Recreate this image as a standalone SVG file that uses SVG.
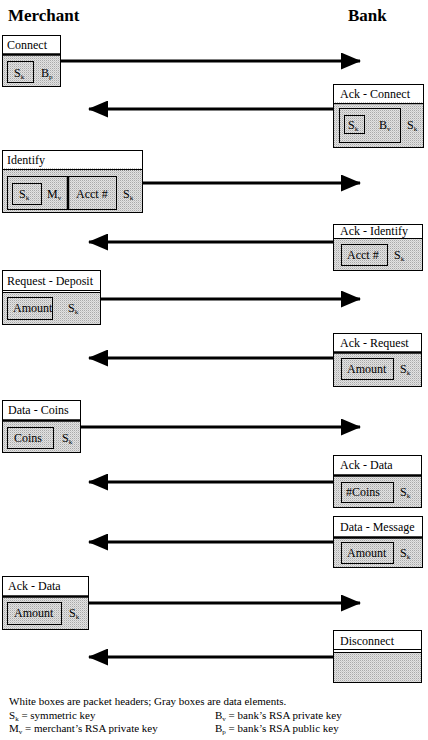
<svg xmlns="http://www.w3.org/2000/svg" width="428" height="740" viewBox="0 0 428 740">
<style>
text{font-family:"Liberation Serif","Times New Roman",Times,"DejaVu Serif",serif;font-size:12px;fill:#000}
.title{font-size:17px;font-weight:bold}
.leg{font-size:11px}
.sub{font-size:7px}
.hdr{fill:#fff;stroke:#000;stroke-width:1}
.body{fill:url(#dots);stroke:#000;stroke-width:1}
.inner{fill:url(#dots);stroke:#000;stroke-width:1}
.thick{stroke:#000;stroke-width:2.5}
.thin{stroke:#000;stroke-width:1}
.dot{stroke:#000;stroke-width:1.5;stroke-dasharray:1 1}
.conn{stroke:#000;stroke-width:3;fill:none}
</style>
<defs>
<pattern id="dots" width="2" height="2" patternUnits="userSpaceOnUse">
<rect width="2" height="2" fill="#e2e2e2"/>
<rect width="1" height="1" fill="#a9a9a9"/>
<rect x="1" y="1" width="1" height="1" fill="#cacaca"/>
</pattern>
<marker id="ah" viewBox="0 0 20 17" refX="19" refY="8.5" markerWidth="20" markerHeight="17" markerUnits="userSpaceOnUse" orient="auto">
<path d="M0,0 L20,8.5 L0,17 Z" fill="#000"/>
</marker>
</defs>
<rect width="428" height="740" fill="#fff"/>

<text class="title" x="8" y="21">Merchant</text>
<text class="title" x="348" y="21">Bank</text>

<g id="connectors">
<line class="conn" x1="61" y1="61" x2="360" y2="61" marker-end="url(#ah)"/>
<line class="conn" x1="333" y1="109" x2="89" y2="109" marker-end="url(#ah)"/>
<line class="conn" x1="143" y1="183" x2="360" y2="183" marker-end="url(#ah)"/>
<line class="conn" x1="333" y1="242" x2="89" y2="242" marker-end="url(#ah)"/>
<line class="conn" x1="101" y1="299" x2="360" y2="299" marker-end="url(#ah)"/>
<line class="conn" x1="333" y1="358" x2="89" y2="358" marker-end="url(#ah)"/>
<line class="conn" x1="81" y1="427" x2="360" y2="427" marker-end="url(#ah)"/>
<line class="conn" x1="333" y1="482" x2="89" y2="482" marker-end="url(#ah)"/>
<line class="conn" x1="333" y1="542" x2="89" y2="542" marker-end="url(#ah)"/>
<line class="conn" x1="89" y1="603" x2="360" y2="603" marker-end="url(#ah)"/>
<line class="conn" x1="333" y1="657" x2="89" y2="657" marker-end="url(#ah)"/>
</g>

<g id="connect">
<rect class="hdr" x="2.5" y="35.5" width="58" height="19"/>
<rect class="body" x="2.5" y="54.5" width="58" height="32"/>
<line class="thick" x1="2" y1="54.5" x2="61" y2="54.5"/>
<text x="7" y="49">Connect</text>
<rect class="inner" x="7.5" y="61.5" width="26" height="21"/>
<text x="14" y="77">S<tspan class="sub" dy="2">k</tspan></text>
<text x="41" y="77">B<tspan class="sub" dy="2">p</tspan></text>
</g>

<g id="ack-connect">
<rect class="hdr" x="333.5" y="84.5" width="90" height="19"/>
<rect class="body" x="333.5" y="103.5" width="90" height="44"/>
<line class="dot" x1="333" y1="103.5" x2="424" y2="103.5"/>
<text x="340" y="98">Ack - Connect</text>
<rect class="inner" x="339.5" y="108.5" width="61" height="34"/>
<rect class="inner" x="344.5" y="115.5" width="20" height="18"/>
<text x="348" y="129">S<tspan class="sub" dy="2">k</tspan></text>
<text x="379" y="129">B<tspan class="sub" dy="2">v</tspan></text>
<text x="407" y="129">S<tspan class="sub" dy="2">k</tspan></text>
</g>

<g id="identify">
<rect class="hdr" x="2.5" y="150.5" width="140" height="19"/>
<rect class="body" x="2.5" y="169.5" width="140" height="43"/>
<line class="dot" x1="2" y1="169.5" x2="143" y2="169.5"/>
<text x="7" y="164">Identify</text>
<rect class="inner" x="7.5" y="176.5" width="109" height="33"/>
<line class="thick" x1="68" y1="176" x2="68" y2="210"/>
<rect class="inner" x="12.5" y="183.5" width="29" height="21"/>
<text x="19" y="198">S<tspan class="sub" dy="2">k</tspan></text>
<text x="47" y="198">M<tspan class="sub" dy="2">v</tspan></text>
<text x="76" y="198">Acct #</text>
<text x="123" y="198">S<tspan class="sub" dy="2">k</tspan></text>
</g>

<g id="ack-identify">
<rect class="hdr" x="333.5" y="224.5" width="89" height="14"/>
<rect class="body" x="333.5" y="238.5" width="89" height="32"/>
<line class="thin" x1="333" y1="238.5" x2="423" y2="238.5"/>
<text x="340" y="235">Ack - Identify</text>
<rect class="inner" x="341.5" y="244.5" width="46" height="21"/>
<text x="347" y="259">Acct #</text>
<text x="394" y="259">S<tspan class="sub" dy="2">k</tspan></text>
</g>

<g id="request-deposit">
<rect class="hdr" x="2.5" y="270.5" width="98" height="22"/>
<rect class="body" x="2.5" y="292.5" width="98" height="32"/>
<line class="thin" x1="2" y1="290.5" x2="101" y2="290.5"/>
<text x="7" y="285">Request - Deposit</text>
<rect class="inner" x="7.5" y="297.5" width="45" height="22"/>
<text x="13" y="312">Amount</text>
<text x="68" y="312">S<tspan class="sub" dy="2">k</tspan></text>
</g>

<g id="ack-request">
<rect class="hdr" x="333.5" y="333.5" width="88" height="19"/>
<rect class="body" x="333.5" y="352.5" width="88" height="34"/>
<line class="thick" x1="333" y1="352.5" x2="422" y2="352.5"/>
<text x="340" y="347">Ack - Request</text>
<rect class="inner" x="341.5" y="358.5" width="52" height="21"/>
<text x="347" y="373">Amount</text>
<text x="400" y="373">S<tspan class="sub" dy="2">k</tspan></text>
</g>

<g id="data-coins">
<rect class="hdr" x="2.5" y="400.5" width="78" height="20"/>
<rect class="body" x="2.5" y="420.5" width="78" height="32"/>
<line class="thick" x1="2" y1="420.5" x2="81" y2="420.5"/>
<text x="8" y="414">Data - Coins</text>
<rect class="inner" x="7.5" y="427.5" width="46" height="21"/>
<text x="14" y="442">Coins</text>
<text x="62" y="442">S<tspan class="sub" dy="2">k</tspan></text>
</g>

<g id="ack-data-bank">
<rect class="hdr" x="333.5" y="455.5" width="88" height="20"/>
<rect class="body" x="333.5" y="475.5" width="88" height="32"/>
<line class="thick" x1="333" y1="475.5" x2="422" y2="475.5"/>
<text x="340" y="469">Ack - Data</text>
<rect class="inner" x="341.5" y="482.5" width="52" height="20"/>
<text x="346" y="496">#Coins</text>
<text x="400" y="496">S<tspan class="sub" dy="2">k</tspan></text>
</g>

<g id="data-message">
<rect class="hdr" x="333.5" y="516.5" width="89" height="21"/>
<rect class="body" x="333.5" y="537.5" width="89" height="30"/>
<line class="thick" x1="333" y1="537.5" x2="423" y2="537.5"/>
<text x="340" y="531">Data - Message</text>
<rect class="inner" x="341.5" y="542.5" width="52" height="21"/>
<text x="347" y="557">Amount</text>
<text x="400" y="557">S<tspan class="sub" dy="2">k</tspan></text>
</g>

<g id="ack-data-merchant">
<rect class="hdr" x="2.5" y="576.5" width="86" height="20"/>
<rect class="body" x="2.5" y="596.5" width="86" height="33"/>
<line class="thick" x1="2" y1="596.5" x2="89" y2="596.5"/>
<text x="8" y="590">Ack - Data</text>
<rect class="inner" x="7.5" y="602.5" width="54" height="22"/>
<text x="14" y="617">Amount</text>
<text x="69" y="617">S<tspan class="sub" dy="2">k</tspan></text>
</g>

<g id="disconnect">
<rect class="hdr" x="333.5" y="630.5" width="88" height="22"/>
<rect class="body" x="333.5" y="652.5" width="88" height="30"/>
<line class="thin" x1="333" y1="649.5" x2="422" y2="649.5"/>
<text x="340" y="645">Disconnect</text>
</g>

<g id="legend">
<text class="leg" x="9" y="705">White boxes are packet headers; Gray boxes are data elements.</text>
<text class="leg" x="9" y="719">S<tspan class="sub" dy="2">k</tspan><tspan dy="-2"> = symmetric key</tspan></text>
<text class="leg" x="215" y="719">B<tspan class="sub" dy="2">v</tspan><tspan dy="-2"> = bank’s RSA private key</tspan></text>
<text class="leg" x="9" y="732">M<tspan class="sub" dy="2">v</tspan><tspan dy="-2"> = merchant’s RSA private key</tspan></text>
<text class="leg" x="215" y="732">B<tspan class="sub" dy="2">p</tspan><tspan dy="-2"> = bank’s RSA public key</tspan></text>
</g>
</svg>
